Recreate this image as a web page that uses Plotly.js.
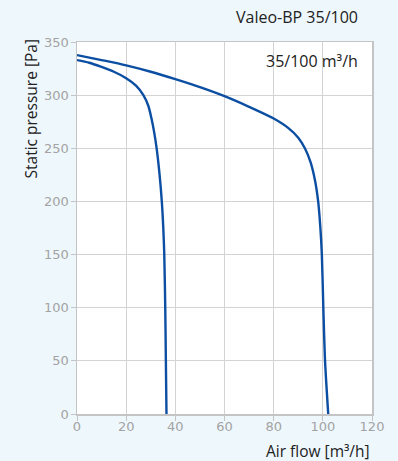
<!DOCTYPE html>
<html>
<head>
<meta charset="utf-8">
<script src="https://cdn.plot.ly/plotly-3.0.1.min.js"></script>
<style>html,body{margin:0;padding:0;background:#eef7fc;}#chart{width:398px;height:461px;}</style>
</head>
<body>
<div id="chart"></div>
<script>
// Curve for 35 m3/h setting
const flow35 = [0, 5, 10, 15, 20, 24, 27, 29, 30.3, 31.4, 32.4, 33.6, 34.5, 35.1, 35.5, 35.9, 36.15, 36.4];
const pressure35 = [333, 330.5, 326.5, 322, 316, 309, 300, 290, 278, 265, 250, 225, 200, 175, 150, 100, 50, 0];
// Curve for 100 m3/h setting
const flow100 = [0, 10, 20, 30, 40, 50, 60, 70, 80, 86, 90, 92.7, 95, 96.8, 98.1, 99, 99.6, 100.2, 100.9, 102.2];
const pressure100 = [337.7, 333, 328, 322, 315, 307.5, 299, 289, 278, 269, 260, 250, 237, 220, 200, 175, 150, 100, 50, 0];
const xTicks = [0, 20, 40, 60, 80, 100, 120];
const yTicks = [0, 50, 100, 150, 200, 250, 300, 350];

const lineStyle = {color: '#0b4ea2', width: 2.4, shape: 'spline', smoothing: 0.8};
const traces = [
  {x: flow35, y: pressure35, mode: 'lines', line: lineStyle, hoverinfo: 'skip'},
  {x: flow100, y: pressure100, mode: 'lines', line: lineStyle, hoverinfo: 'skip'}
];
const textFont = 'Open Sans, Noto Sans, sans-serif';
const axisCommon = {
  showgrid: true, gridcolor: '#d3d3d3', gridwidth: 1,
  showline: true, linecolor: '#c4c4c4', linewidth: 1.5, mirror: true,
  ticks: 'outside', ticklen: 5, tickcolor: '#c4c4c4',
  tickfont: {family: 'DejaVu Sans, sans-serif', size: 13, color: '#a3a3a3'},
  zeroline: false, fixedrange: true
};
const layout = {
  width: 398, height: 461,
  paper_bgcolor: '#eef7fc', plot_bgcolor: '#ffffff',
  margin: {l: 77, r: 26, t: 42, b: 47},
  showlegend: false,
  xaxis: Object.assign({}, axisCommon, {range: [0, 120], tickvals: xTicks, ticktext: xTicks.map(String), ticklabelstandoff: -5}),
  yaxis: Object.assign({}, axisCommon, {range: [0, 350], tickvals: yTicks, ticktext: yTicks.map(String), ticklabelstandoff: -1}),
  annotations: [
    {text: 'Valeo-BP 35/100', xref: 'paper', yref: 'paper', x: 0.96, y: 1, yshift: 25, xanchor: 'right', yanchor: 'middle', showarrow: false,
     font: {family: textFont, size: 16, color: '#222222'}},
    {text: '35/100 m³/h', xref: 'paper', yref: 'paper', x: 0.96, y: 1, yshift: -19, xanchor: 'right', yanchor: 'middle', showarrow: false,
     font: {family: textFont, size: 16, color: '#222222'}},
    {text: 'Air flow [m³/h]', xref: 'paper', yref: 'paper', x: 1, y: 0, yshift: -37, xanchor: 'right', yanchor: 'middle', showarrow: false,
     font: {family: textFont, size: 15.5, color: '#222222'}},
    {text: 'Static pressure [Pa]', xref: 'paper', yref: 'paper', x: 0, xshift: -47, y: 1, yshift: 4, yanchor: 'top', xanchor: 'center', textangle: -90, showarrow: false,
     font: {family: textFont, size: 15.5, color: '#222222'}}
  ]
};
Plotly.newPlot('chart', traces, layout, {staticPlot: true, displayModeBar: false});
</script>
</body>
</html>
